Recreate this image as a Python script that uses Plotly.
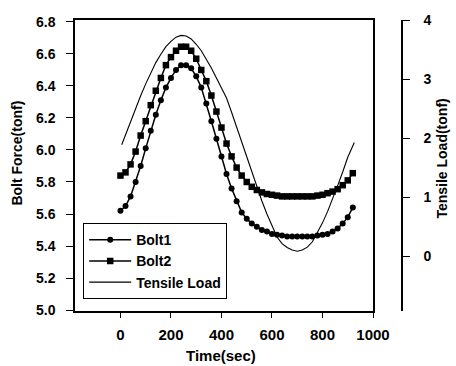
import plotly.graph_objects as go

time_s = [0, 20, 40, 60, 80, 100, 120, 140, 160, 180, 200, 220, 240, 260, 280, 300,
          320, 340, 360, 380, 400, 420, 440, 460, 480, 500, 520, 540, 560, 580, 600,
          620, 640, 660, 680, 700, 720, 740, 760, 780, 800, 820, 840, 860, 880, 900, 920]

bolt1 = [5.62, 5.65, 5.71, 5.80, 5.90, 6.01, 6.12, 6.22, 6.31, 6.39, 6.45, 6.50, 6.53, 6.53,
         6.51, 6.46, 6.39, 6.29, 6.18, 6.07, 5.96, 5.85, 5.76, 5.68, 5.61, 5.57, 5.54, 5.52,
         5.50, 5.49, 5.475, 5.47, 5.465, 5.46, 5.46, 5.46, 5.46, 5.46, 5.46, 5.465, 5.47,
         5.475, 5.49, 5.51, 5.54, 5.58, 5.64]

bolt2 = [5.84, 5.86, 5.91, 5.99, 6.09, 6.18, 6.28, 6.37, 6.45, 6.53, 6.58, 6.62, 6.645, 6.645,
         6.62, 6.57, 6.50, 6.43, 6.34, 6.24, 6.14, 6.04, 5.96, 5.89, 5.84, 5.80, 5.77, 5.75,
         5.735, 5.725, 5.72, 5.715, 5.71, 5.71, 5.71, 5.71, 5.71, 5.71, 5.71, 5.715, 5.72,
         5.73, 5.74, 5.755, 5.78, 5.81, 5.855]

tensile_time = [5, 20, 40, 60, 80, 100, 120, 140, 160, 180, 200, 220, 240, 260, 280, 300,
                320, 340, 360, 380, 400, 420, 440, 460, 480, 500, 520, 540, 560, 580, 600,
                620, 640, 660, 680, 700, 720, 740, 760, 780, 800, 820, 840, 860, 880, 900, 926]
tensile = [1.89, 2.06, 2.27, 2.49, 2.72, 2.92, 3.11, 3.28, 3.42, 3.55, 3.64, 3.71, 3.74, 3.73,
           3.68, 3.59, 3.48, 3.34, 3.19, 3.02, 2.86, 2.68, 2.44, 2.19, 1.94, 1.69, 1.43, 1.17,
           0.94, 0.72, 0.52, 0.33, 0.22, 0.155, 0.11, 0.09, 0.11, 0.16, 0.25, 0.40, 0.57,
           0.76, 0.97, 1.20, 1.43, 1.68, 1.93]

x_ticks = [0, 200, 400, 600, 800, 1000]
y_ticks = [5.0, 5.2, 5.4, 5.6, 5.8, 6.0, 6.2, 6.4, 6.6, 6.8]
y2_ticks = [0, 1, 2, 3, 4]

FONT = "Liberation Sans, Arial, sans-serif"

fig = go.Figure()
fig.add_trace(go.Scatter(x=time_s, y=bolt1, name="Bolt1", mode="lines+markers",
                         line=dict(color="black", width=1.5),
                         marker=dict(symbol="circle", size=6, color="black")))
fig.add_trace(go.Scatter(x=time_s, y=bolt2, name="Bolt2", mode="lines+markers",
                         line=dict(color="black", width=1.5),
                         marker=dict(symbol="square", size=6.5, color="black")))
fig.add_trace(go.Scatter(x=tensile_time, y=tensile, name="Tensile Load", mode="lines",
                         line=dict(color="black", width=1.1), yaxis="y2"))

L, R, T, B = 75, 54, 17, 55
W, H = 456, 366
pw = W - L - R
ph = H - T - B

def px(x):
    return (x - L) / pw

def py(y):
    return (H - B - y) / ph

axis_common = dict(showgrid=False, zeroline=False, showline=True, linecolor="black",
                   linewidth=1.5, ticks="outside", tickcolor="black", tickwidth=1.3,
                   tickfont=dict(family=FONT, size=14, color="black", weight="bold"))

fig.update_layout(
    width=W, height=H,
    margin=dict(l=L, r=R, t=T, b=B),
    paper_bgcolor="white", plot_bgcolor="white",
    font=dict(family=FONT, color="black", weight="bold"),
    xaxis=dict(domain=[0, px(373)], range=[-180, 1000], tickvals=x_ticks, ticklen=5,
               mirror=True, ticklabelstandoff=4, **{k: v for k, v in axis_common.items() if k != "tickfont"},
               tickfont=dict(family=FONT, size=15, color="black", weight="bold")),
    yaxis=dict(range=[4.994, 6.812], tickvals=y_ticks, tickformat=".1f", ticklen=7,
               mirror=True, ticklabelstandoff=8, **axis_common),
    yaxis2=dict(range=[-0.92, 4.0], tickvals=y2_ticks, overlaying="y", side="right",
                anchor="free", position=1.0, ticklen=7, ticklabelstandoff=11, **axis_common),
    showlegend=True,
    legend=dict(x=px(83), y=py(222), xanchor="left", yanchor="top",
                bgcolor="white", bordercolor="black", borderwidth=1.2,
                font=dict(family=FONT, size=14, color="black", weight="bold"),
                itemwidth=42, tracegroupgap=0),
    annotations=[
        dict(text="Bolt Force(tonf)", xref="paper", yref="paper", x=px(17), y=py(152),
             textangle=-90, showarrow=False, xanchor="center", yanchor="middle",
             font=dict(family=FONT, size=14, color="black", weight="bold")),
        dict(text="Tensile Load(tonf)", xref="paper", yref="paper", x=px(442), y=py(157),
             textangle=-90, showarrow=False, xanchor="center", yanchor="middle",
             font=dict(family=FONT, size=14, color="black", weight="bold")),
        dict(text="Time(sec)", xref="paper", yref="paper", x=px(221), y=py(356),
             showarrow=False, xanchor="center", yanchor="middle",
             font=dict(family=FONT, size=15, color="black", weight="bold")),
    ],
)

fig.write_html("out.html")
